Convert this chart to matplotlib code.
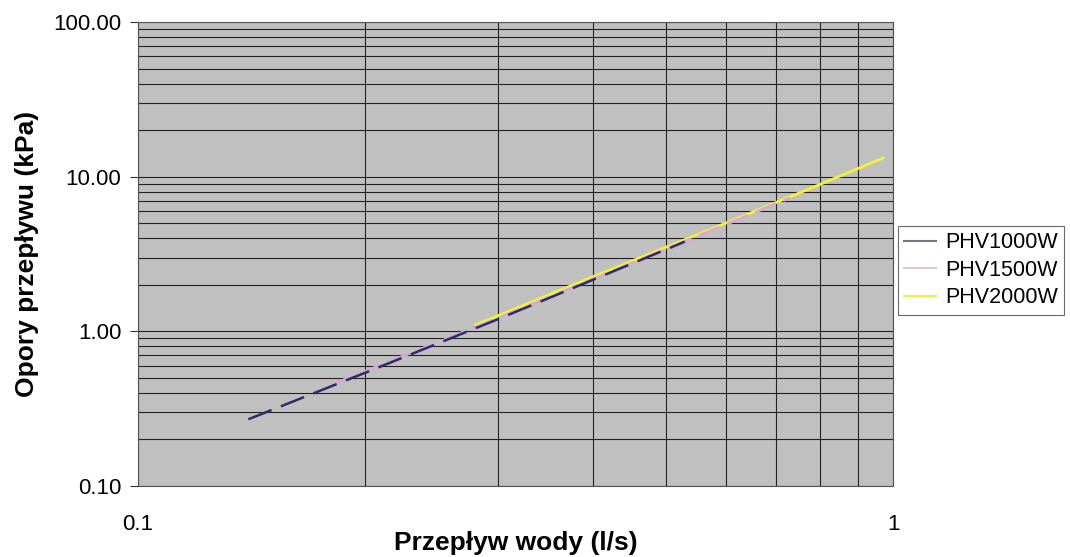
import matplotlib.pyplot as plt
from matplotlib.ticker import FixedLocator, NullFormatter

plt.rcParams['font.family'] = ['Liberation Sans', 'DejaVu Sans']

# flow (l/s) and pressure drop (kPa)
q_1000 = [0.14, 0.20, 0.30, 0.40, 0.53]
dp_1000 = [0.27, 0.54, 1.20, 2.15, 3.80]
q_1500 = [0.18, 0.30, 0.45, 0.60, 0.73]
dp_1500 = [0.45, 1.22, 2.75, 4.90, 7.30]
q_2000 = [0.28, 0.40, 0.60, 0.80, 0.97]
dp_2000 = [1.10, 2.25, 5.00, 8.90, 13.2]

labels = ["PHV1000W", "PHV1500W", "PHV2000W"]
y_ticks = [0.1, 1, 10, 100]
y_ticklabels = ["0.10", "1.00", "10.00", "100.00"]
x_ticks = [0.1, 1]
x_ticklabels = ["0.1", "1"]

fig = plt.figure(figsize=(10.7, 5.57), dpi=100)
ax = fig.add_axes([0.129, 0.1275, 0.7056, 0.833])
ax.set_facecolor("#c0c0c0")

ax.plot(q_2000, dp_2000, color="#f2f23c", lw=2.0, label=labels[2])
ax.plot(q_1500, dp_1500, color="#d8a8d8", lw=2.0, ls=(0, (8, 3)), label=labels[1])
ax.plot(q_1000, dp_1000, color="#2e2c6a", lw=1.8, ls=(0, (10, 4)), label=labels[0])

ax.set_xscale("log")
ax.set_yscale("log")
ax.set_xlim(0.1, 1)
ax.set_ylim(0.1, 100)

ax.set_yticks(y_ticks)
ax.set_yticklabels(y_ticklabels)
ax.set_xticks(x_ticks)
ax.set_xticklabels(x_ticklabels)
ax.yaxis.set_minor_locator(FixedLocator([m * d for d in [0.1, 1, 10] for m in range(2, 10)]))
ax.xaxis.set_minor_locator(FixedLocator([m * 0.1 for m in range(2, 10)]))
ax.xaxis.set_minor_formatter(NullFormatter())
ax.yaxis.set_minor_formatter(NullFormatter())

ax.grid(True, which="both", color="#222222", lw=0.8)
ax.set_axisbelow(True)
ax.tick_params(axis="both", which="major", labelsize=16, length=6, color="#333333")
ax.tick_params(axis="both", which="minor", length=0)
ax.tick_params(axis="x", which="major", length=0, pad=20)
ax.tick_params(axis="y", which="major", pad=6)
for s in ax.spines.values():
    s.set_color("#555555")
    s.set_linewidth(0.8)

ax.set_xlabel("Przepływ wody (l/s)", fontsize=19, fontweight="bold")
ax.xaxis.set_label_coords(0.5, -0.098)
ax.set_ylabel("Opory przepływu (kPa)", fontsize=19, fontweight="bold", labelpad=10)

handles, labs = ax.get_legend_handles_labels()
order = [2, 1, 0]
leg = fig.legend([handles[i] for i in order], [labs[i] for i in order],
                 loc="center left", bbox_to_anchor=(0.839, 0.515),
                 fontsize=15.5, frameon=True, fancybox=False, handlelength=1.5,
                 handletextpad=0.4, borderpad=0.3, borderaxespad=0, labelspacing=0.3)
leg.get_frame().set_edgecolor("#444444")
leg.get_frame().set_linewidth(0.8)
for h in leg.get_lines():
    h.set_linestyle("-")
    h.set_linewidth(1.5)
leg.get_lines()[0].set_color("#777788")
leg.get_lines()[1].set_color("#e4c4e0")

fig.savefig("out.png", dpi=100)
